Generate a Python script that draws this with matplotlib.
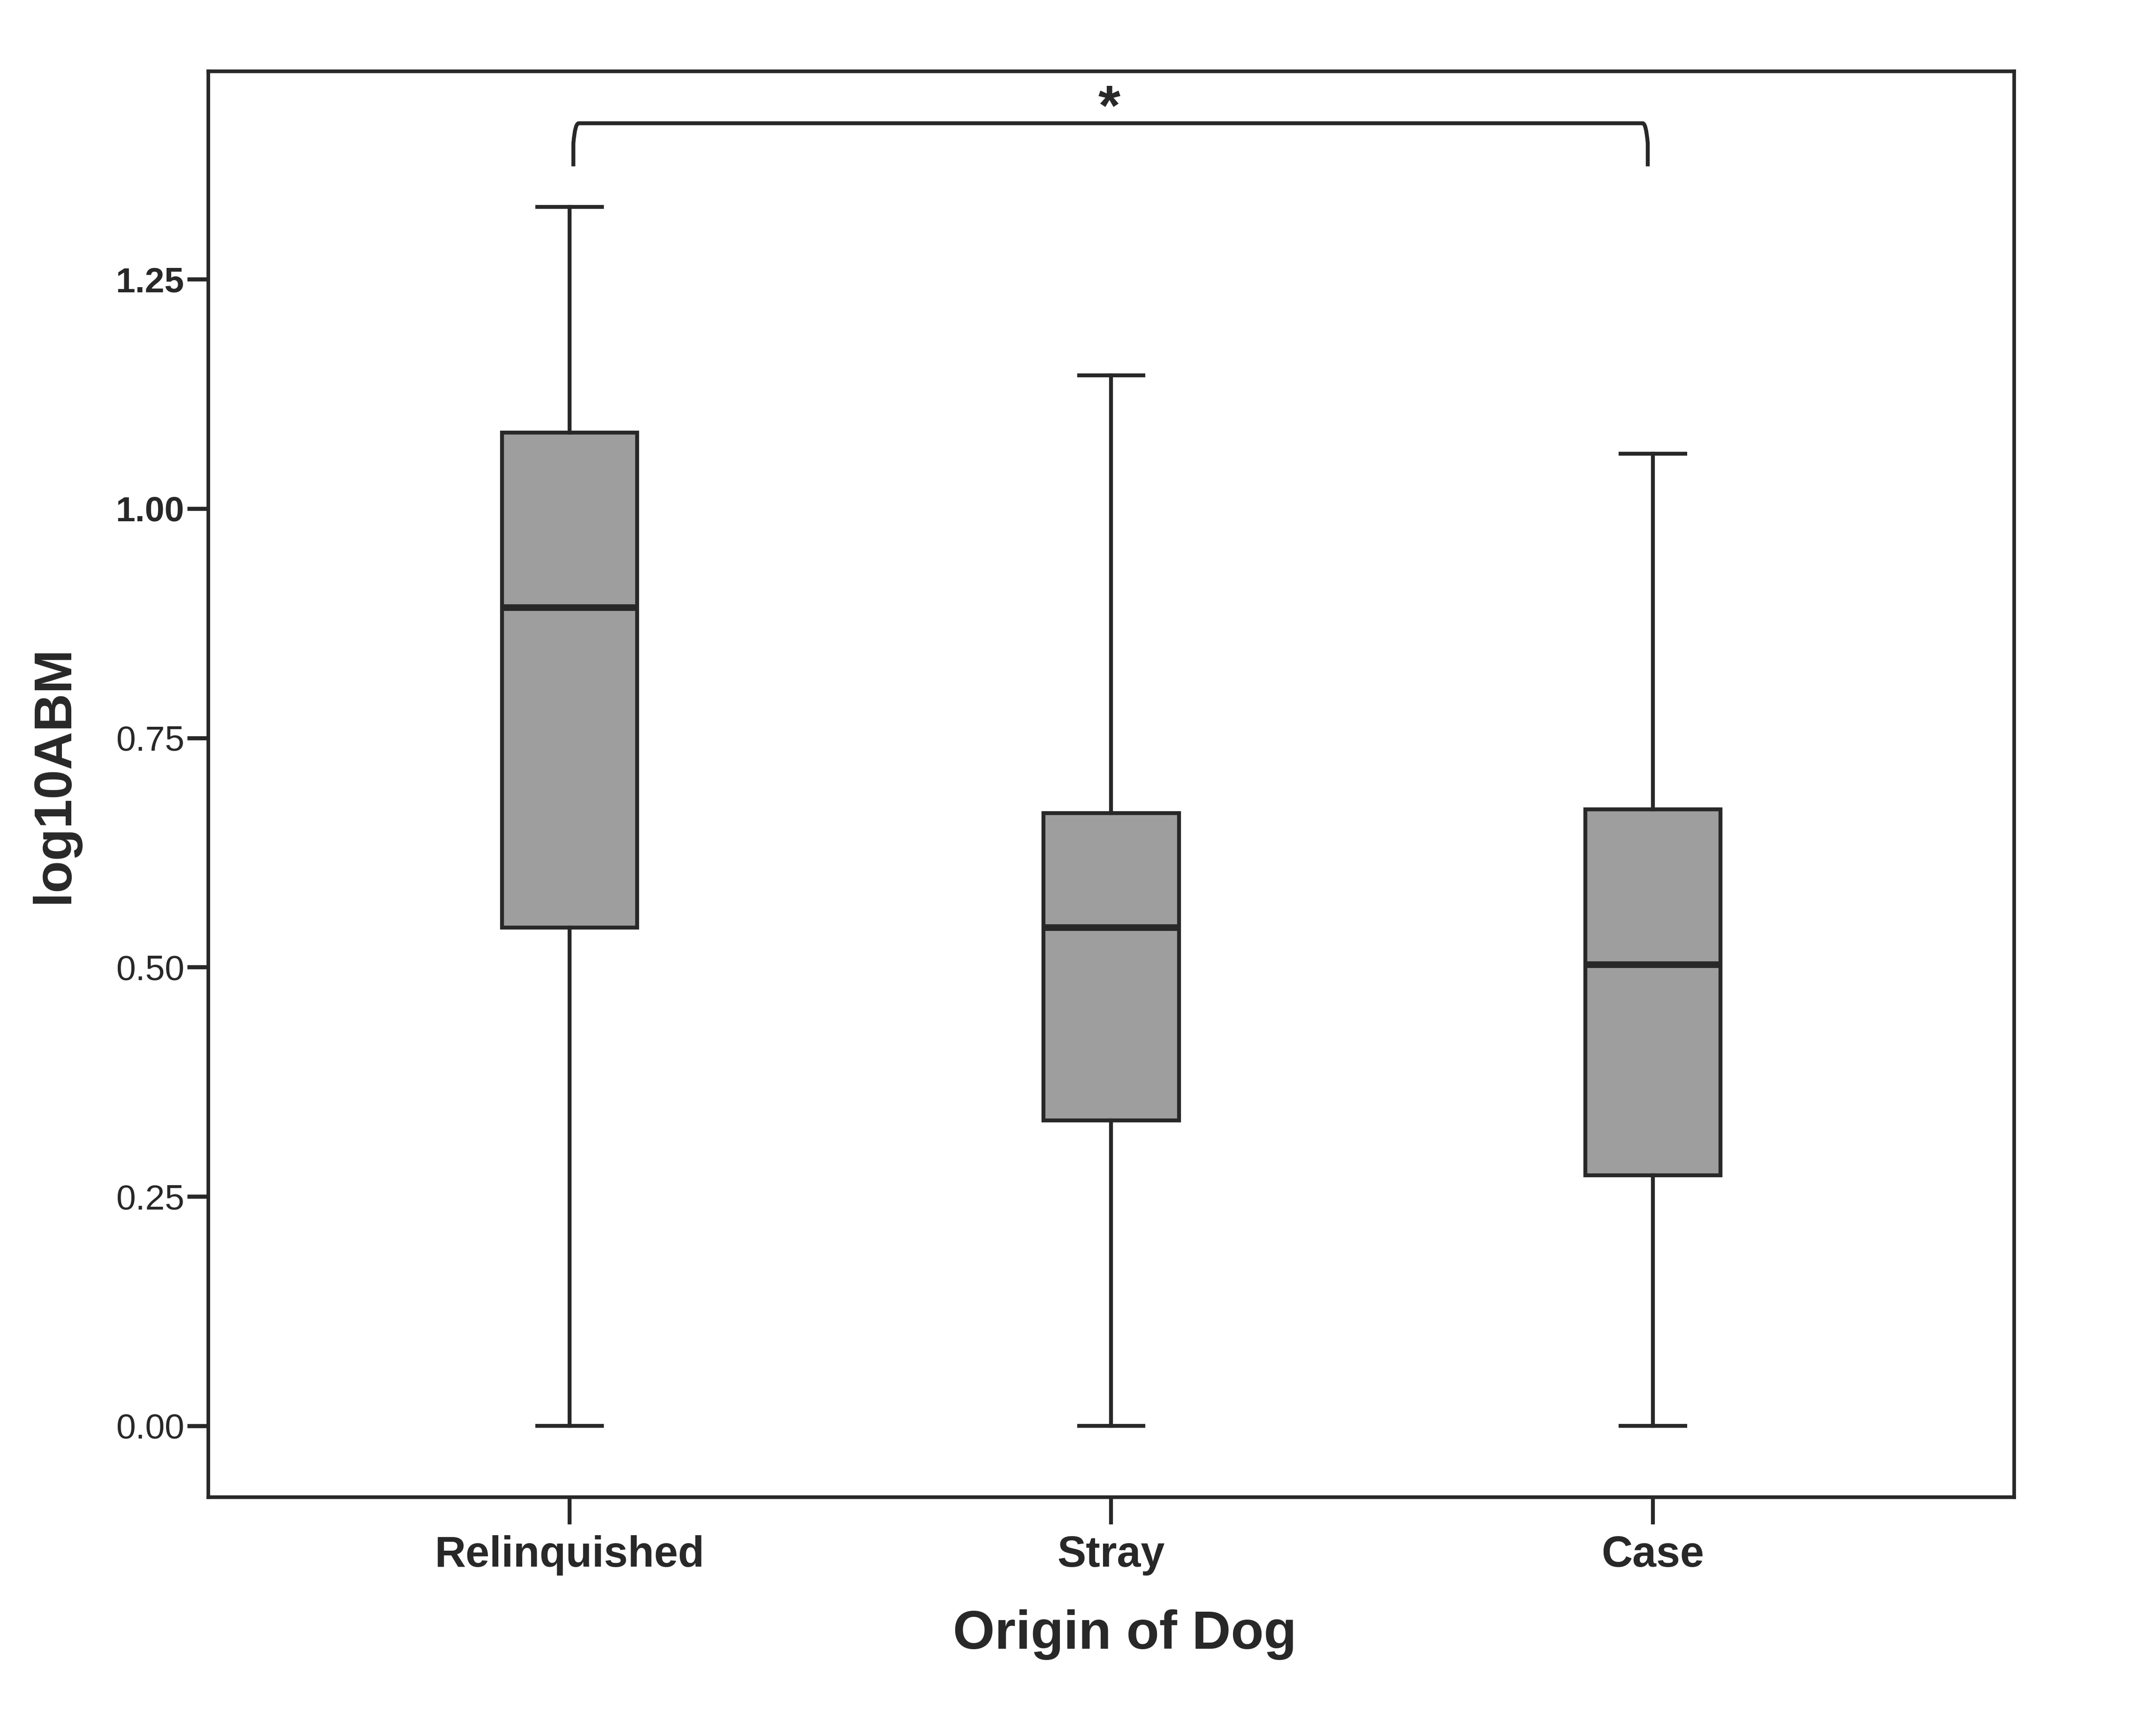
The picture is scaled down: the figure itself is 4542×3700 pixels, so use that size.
import matplotlib
matplotlib.use("Agg")
import matplotlib.pyplot as plt
from matplotlib.path import Path
from matplotlib.patches import PathPatch
from matplotlib.textpath import TextPath
from matplotlib.font_manager import FontProperties
import matplotlib.transforms as mtransforms

# ---- data ----
categories = ["Relinquished", "Stray", "Case"]
whisker_low = [0.0, 0.0, 0.0]
q1 = [0.543, 0.333, 0.273]
median = [0.892, 0.543, 0.503]
q3 = [1.083, 0.668, 0.672]
whisker_high = [1.329, 1.145, 1.060]

y_ticks = [0.00, 0.25, 0.50, 0.75, 1.00, 1.25]
y_tick_labels = ["0.00", "0.25", "0.50", "0.75", "1.00", "1.25"]
bold_tick_labels = ["1.00", "1.25"]

x_label = "Origin of Dog"
y_label = "log10ABM"

# significance bracket between Relinquished (0) and Case (2)
sig_pair = (0, 2)
sig_text = "*"
bracket_y = 1.420
bracket_leg_bottom = 1.373
star_center_y = 1.4497

# ---- style ----
DARK = "#282828"
FILL = "#9e9e9e"
FONT = "Liberation Sans"
plt.rcParams["font.family"] = [FONT, "DejaVu Sans"]

fig = plt.figure(figsize=(4542 / 300, 3700 / 300), dpi=300)
ax = fig.add_axes([0.097754, 0.137568, 0.847424, 0.821351])

positions = list(range(len(categories)))
stats = []
for i, name in enumerate(categories):
    stats.append(dict(label=name, whislo=whisker_low[i], q1=q1[i], med=median[i],
                      q3=q3[i], whishi=whisker_high[i], fliers=[]))

ax.bxp(stats, positions=positions, widths=0.25, capwidths=0.126,
       patch_artist=True, showfliers=False,
       boxprops=dict(facecolor=FILL, edgecolor=DARK, linewidth=2.0),
       medianprops=dict(color=DARK, linewidth=3.4, solid_capstyle="butt"),
       whiskerprops=dict(color=DARK, linewidth=2.0),
       capprops=dict(color=DARK, linewidth=2.0, solid_capstyle="butt"))

ax.set_xlim(-0.667, 2.667)
ax.set_ylim(-0.0777, 1.4766)

for sp in ax.spines.values():
    sp.set_linewidth(1.85)
    sp.set_color(DARK)

ax.set_xticks(positions)
ax.set_xticklabels(categories, fontsize=22, fontweight="bold", color=DARK)
ax.tick_params(axis="x", length=14, width=2.0, color=DARK, pad=5.5)

ax.set_yticks(y_ticks)
ax.set_yticklabels(y_tick_labels, fontsize=18, color=DARK)
for t in ax.get_yticklabels():
    if t.get_text() in bold_tick_labels:
        t.set_fontweight("bold")
ax.tick_params(axis="y", length=10.8, width=2.1, color=DARK, pad=1.5)

ax.set_xlabel(x_label, fontsize=27.5, fontweight="bold", color=DARK, va="top")
ax.xaxis.set_label_coords(0.5074, -0.0786)
ax.set_ylabel(y_label, fontsize=27, fontweight="bold", color=DARK, va="center")
ax.yaxis.set_label_coords(-0.0852, 0.5067)

# ---- significance bracket ----
xa, xb = sig_pair
xl0, xl1 = xa + 0.007, xa + 0.017
xr0, xr1 = xb - 0.0095, xb - 0.019
verts = [
    (xl0, bracket_leg_bottom),
    (xl0, bracket_y - 0.022),
    (xl0 + 0.003, bracket_y),
    (xl1, bracket_y),
    (xr1, bracket_y),
    (xr0 - 0.003, bracket_y),
    (xr0, bracket_y - 0.022),
    (xr0, bracket_leg_bottom),
]
codes = [Path.MOVETO, Path.LINETO, Path.CURVE3, Path.CURVE3,
         Path.LINETO, Path.CURVE3, Path.CURVE3, Path.LINETO]
ax.add_patch(PathPatch(Path(verts, codes), facecolor="none", edgecolor=DARK,
                       linewidth=2.0, clip_on=False, capstyle="butt"))

# asterisk: size and vertical offset from glyph extents
fp = FontProperties(family=FONT, weight="bold")
ext = TextPath((0, 0), sig_text, size=1, prop=fp).get_extents()
target_h_pt = 45 / 300 * 72
fs = target_h_pt / ext.height
center_off_pt = (ext.y0 + ext.y1) / 2 * fs
trans = mtransforms.offset_copy(ax.transData, fig=fig, x=0, y=-center_off_pt, units="points")
ax.text((xa + xb) / 2 - 0.004, star_center_y, sig_text, fontproperties=fp, fontsize=fs,
        color=DARK, ha="center", va="baseline", transform=trans)

fig.savefig("out.png", dpi=300, facecolor="white")
